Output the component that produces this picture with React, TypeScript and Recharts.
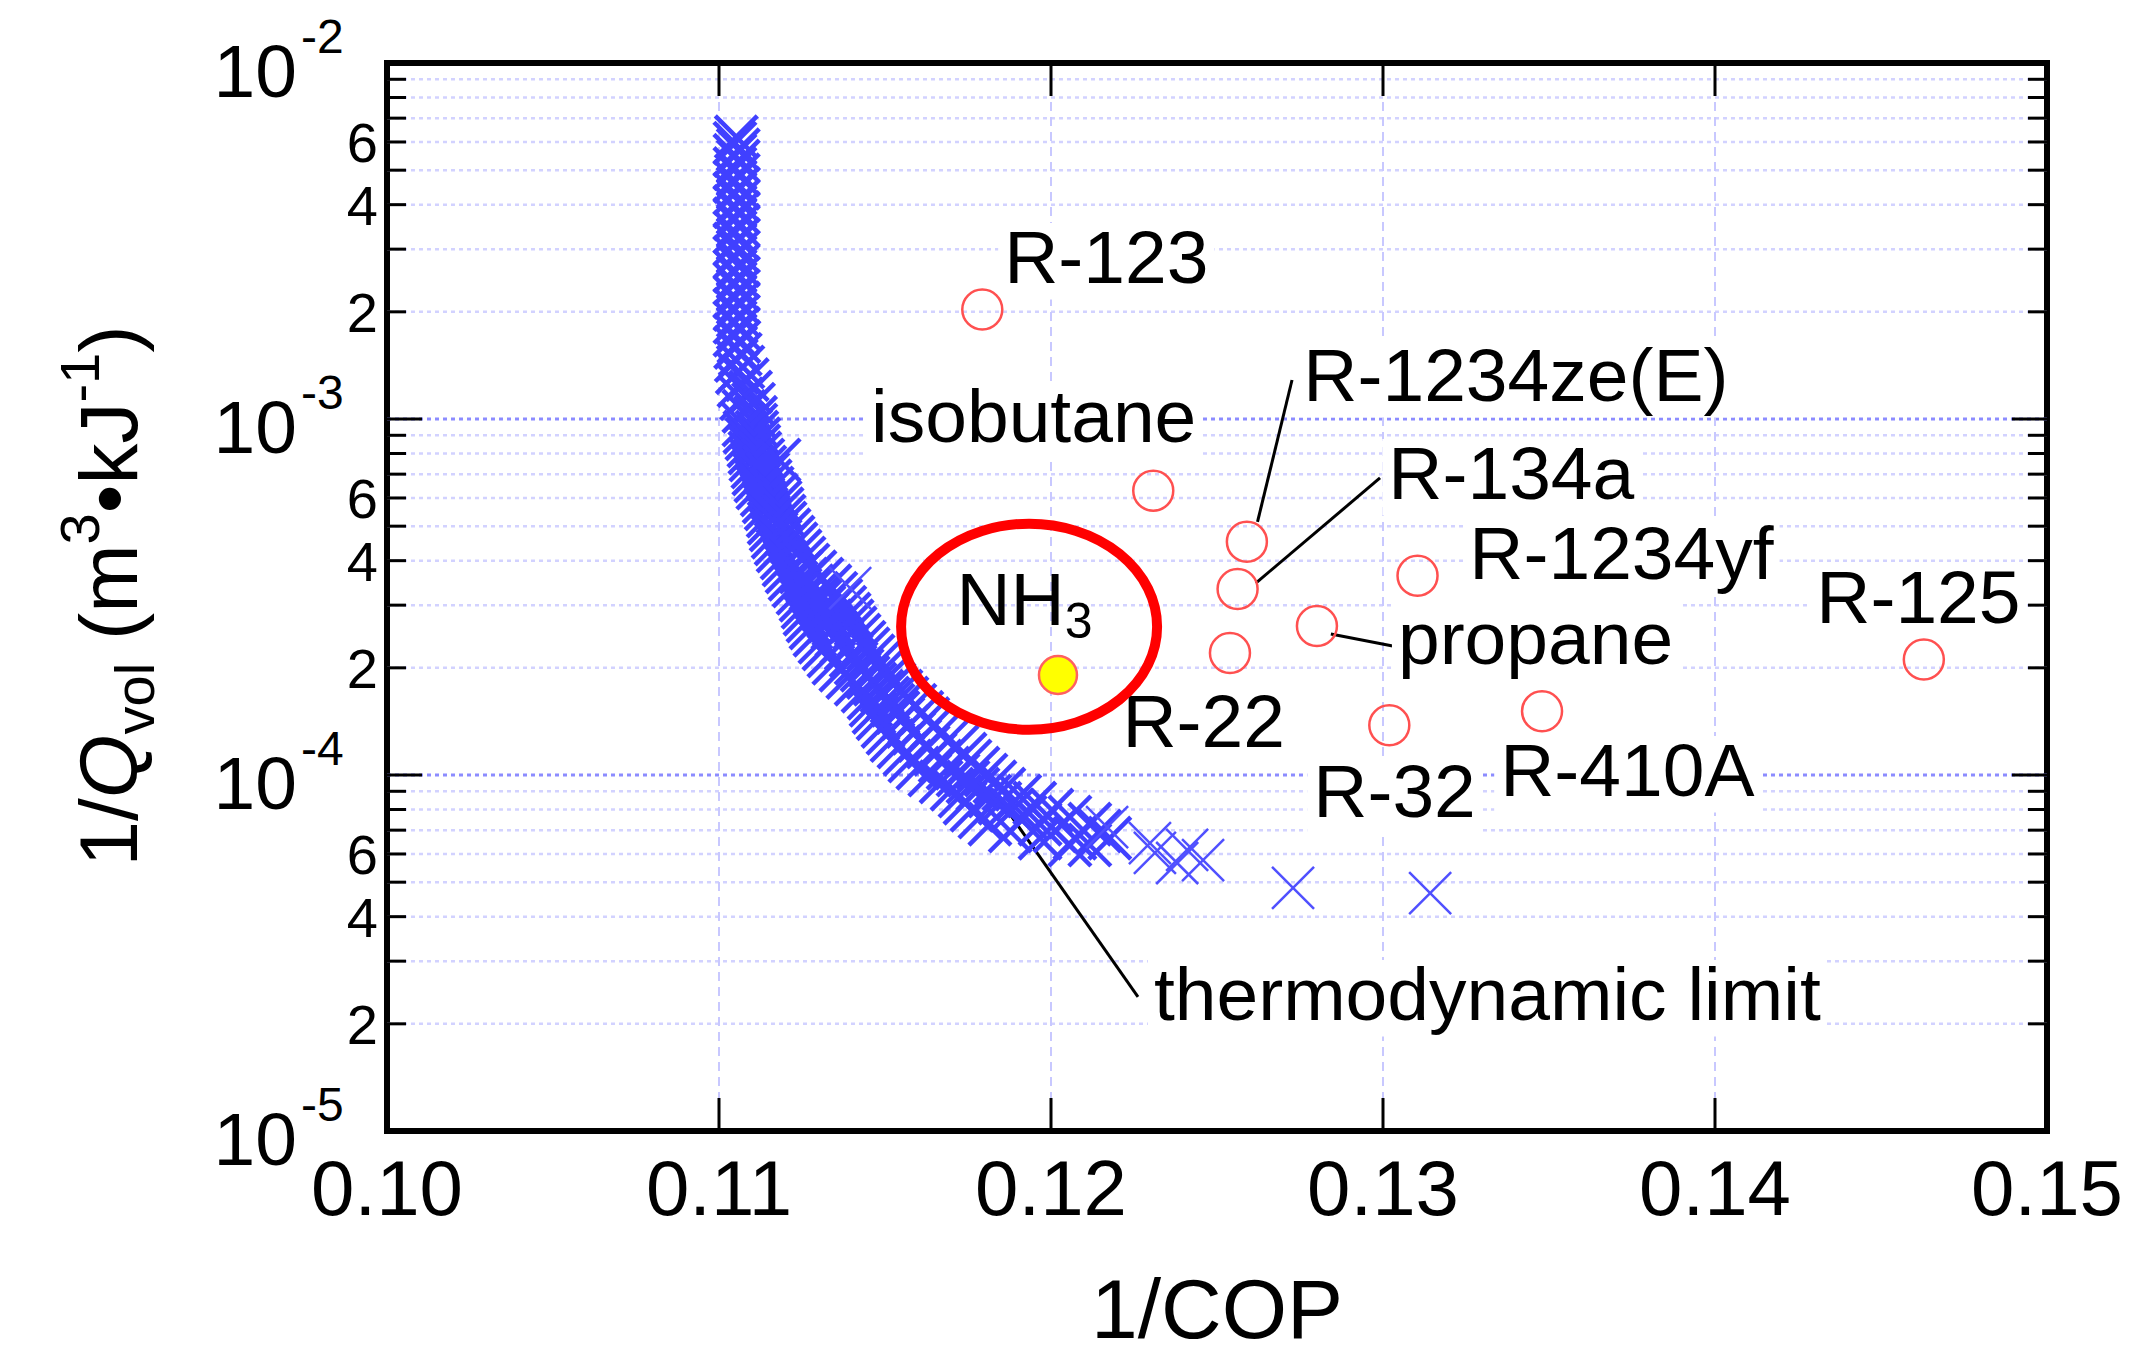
import React from "react"
import {
  ScatterChart,
  Scatter,
  XAxis,
  YAxis,
  ReferenceLine,
  ReferenceDot,
  ReferenceArea,
} from "recharts"

// ---- axes ----
const xTicks = [0.1, 0.11, 0.12, 0.13, 0.14, 0.15]
const xGrid = [0.11, 0.12, 0.13, 0.14]
const yTicks = [
  1e-5, 2e-5, 3e-5, 4e-5, 5e-5, 6e-5, 7e-5, 8e-5, 9e-5,
  1e-4, 2e-4, 3e-4, 4e-4, 5e-4, 6e-4, 7e-4, 8e-4, 9e-4,
  1e-3, 2e-3, 3e-3, 4e-3, 5e-3, 6e-3, 7e-3, 8e-3, 9e-3,
  1e-2,
]
const yMinorLabels = [2, 4, 6]

// ---- thermodynamic limit cloud: [1/COP, 1/Qvol] ----
const limitUpper: [number, number][] = [
  [0.11052, 6.2e-3], [0.11048, 5.95e-3], [0.11058, 5.7e-3], [0.11048, 5.5e-3],
  [0.11058, 5.3e-3], [0.11048, 5.05e-3], [0.11058, 4.85e-3], [0.11048, 4.65e-3],
  [0.11058, 4.45e-3], [0.11048, 4.3e-3], [0.11058, 4.1e-3], [0.11048, 3.95e-3],
  [0.11058, 3.8e-3], [0.11048, 3.65e-3], [0.11058, 3.5e-3], [0.11048, 3.35e-3],
  [0.11058, 3.2e-3], [0.11048, 3.1e-3], [0.11058, 2.95e-3], [0.11048, 2.85e-3],
  [0.11058, 2.7e-3], [0.11048, 2.6e-3], [0.11058, 2.5e-3], [0.11048, 2.4e-3],
  [0.11058, 2.3e-3], [0.11048, 2.2e-3], [0.11058, 2.12e-3], [0.11048, 2.03e-3],
  [0.11058, 1.95e-3], [0.11048, 1.87e-3], [0.11058, 1.8e-3], [0.11048, 1.72e-3],
  [0.1106, 1.65e-3], [0.1105, 1.59e-3], [0.11064, 1.52e-3], [0.11052, 1.46e-3],
  [0.11072, 1.4e-3], [0.11055, 1.35e-3], [0.11085, 1.29e-3], [0.1106, 1.24e-3],
  [0.11095, 1.19e-3], [0.11068, 1.14e-3], [0.11104, 1.1e-3], [0.11075, 1.05e-3],
  [0.1111, 1.01e-3],
]

const limitLower: [number, number][] = [
  [0.11075, 9.62e-4], [0.11111, 9.62e-4],
  [0.11078, 9.19e-4], [0.11114, 9.19e-4],
  [0.11084, 8.79e-4], [0.1112, 8.79e-4],
  [0.1109, 8.4e-4], [0.1112, 8.4e-4],
  [0.11093, 8.03e-4], [0.11123, 8.03e-4],
  [0.11096, 7.67e-4], [0.11132, 7.67e-4], [0.11181, 7.67e-4],
  [0.11102, 7.33e-4], [0.11138, 7.33e-4],
  [0.11105, 7.01e-4], [0.11147, 7.01e-4],
  [0.11111, 6.7e-4], [0.11154, 6.7e-4],
  [0.11117, 6.4e-4], [0.1116, 6.4e-4],
  [0.1113, 6.12e-4], [0.11172, 6.12e-4],
  [0.11136, 5.85e-4], [0.11184, 5.85e-4],
  [0.11142, 5.59e-4], [0.1119, 5.59e-4],
  [0.11148, 5.34e-4], [0.11196, 5.34e-4],
  [0.11151, 5.1e-4], [0.11199, 5.1e-4],
  [0.11157, 4.88e-4], [0.11211, 4.88e-4],
  [0.11163, 4.66e-4], [0.11223, 4.66e-4],
  [0.11172, 4.46e-4], [0.11232, 4.46e-4],
  [0.11178, 4.26e-4], [0.11244, 4.26e-4],
  [0.1119, 4.07e-4], [0.11256, 4.07e-4],
  [0.11196, 3.89e-4], [0.11268, 3.89e-4],
  [0.11205, 3.72e-4], [0.11247, 3.72e-4], [0.11289, 3.72e-4],
  [0.11214, 3.55e-4], [0.11262, 3.55e-4], [0.1131, 3.55e-4],
  [0.11226, 3.4e-4], [0.1128, 3.4e-4], [0.11334, 3.4e-4],
  [0.11238, 3.24e-4], [0.11295, 3.24e-4], [0.11352, 3.24e-4],
  [0.11247, 3.1e-4], [0.11307, 3.1e-4], [0.11367, 3.1e-4],
  [0.11253, 2.96e-4], [0.11316, 2.96e-4], [0.11379, 2.96e-4],
  [0.11259, 2.83e-4], [0.11325, 2.83e-4], [0.11392, 2.83e-4],
  [0.11268, 2.71e-4], [0.11334, 2.71e-4], [0.11401, 2.71e-4],
  [0.11277, 2.59e-4], [0.11343, 2.59e-4], [0.1141, 2.59e-4],
  [0.11289, 2.47e-4], [0.11355, 2.47e-4], [0.11422, 2.47e-4],
  [0.11304, 2.36e-4], [0.1137, 2.36e-4], [0.11437, 2.36e-4],
  [0.11316, 2.26e-4], [0.11383, 2.26e-4], [0.11449, 2.26e-4],
  [0.11331, 2.16e-4], [0.11398, 2.16e-4], [0.11464, 2.16e-4],
  [0.11346, 2.06e-4], [0.11413, 2.06e-4], [0.11479, 2.06e-4],
  [0.11367, 1.97e-4], [0.11431, 1.97e-4], [0.11494, 1.97e-4],
  [0.11388, 1.88e-4], [0.11449, 1.88e-4], [0.11509, 1.88e-4],
  [0.11413, 1.8e-4], [0.1147, 1.8e-4], [0.11527, 1.8e-4],
  [0.11434, 1.72e-4], [0.11491, 1.72e-4], [0.11548, 1.72e-4],
  [0.11452, 1.645e-4], [0.11509, 1.645e-4], [0.11566, 1.645e-4],
  [0.11458, 1.57e-4], [0.11524, 1.57e-4], [0.1159, 1.57e-4],
  [0.11467, 1.5e-4], [0.11539, 1.5e-4], [0.11611, 1.5e-4],
  [0.11479, 1.44e-4], [0.11554, 1.44e-4], [0.11629, 1.44e-4],
  [0.11494, 1.37e-4], [0.11569, 1.37e-4], [0.11644, 1.37e-4],
  [0.11509, 1.31e-4], [0.11587, 1.31e-4], [0.11665, 1.31e-4],
  [0.11521, 1.25e-4], [0.11605, 1.25e-4], [0.11689, 1.25e-4],
  [0.11542, 1.2e-4], [0.1163, 1.2e-4], [0.11717, 1.2e-4],
  [0.1156, 1.145e-4], [0.11651, 1.145e-4], [0.11741, 1.145e-4],
  [0.11575, 1.095e-4], [0.11666, 1.095e-4], [0.11756, 1.095e-4],
  [0.11599, 1.046e-4], [0.1169, 1.046e-4], [0.1178, 1.046e-4],
  [0.11635, 1.0e-4], [0.1172, 1.0e-4], [0.11804, 1.0e-4],
  [0.11669, 9.56e-5], [0.1175, 9.56e-5], [0.11831, 9.56e-5],
  [0.11702, 9.13e-5], [0.1178, 9.13e-5], [0.11858, 9.13e-5],
  [0.11726, 8.73e-5], [0.11816, 8.73e-5], [0.11906, 8.73e-5],
  [0.11741, 8.34e-5], [0.11846, 8.34e-5], [0.11951, 8.34e-5],
  [0.11762, 7.97e-5], [0.11883, 7.97e-5], [0.12003, 7.97e-5],
  [0.11786, 7.62e-5], [0.11922, 7.62e-5], [0.12057, 7.62e-5],
  [0.11816, 7.28e-5], [0.11967, 7.28e-5], [0.12117, 7.28e-5],
  [0.11877, 6.96e-5], [0.12012, 6.96e-5], [0.12147, 6.96e-5],
  [0.11967, 6.65e-5], [0.12072, 6.65e-5], [0.12177, 6.65e-5],
  [0.12057, 6.36e-5], [0.12117, 6.36e-5],
]

const limitStray: [number, number][] = [
  [0.11395, 3.35e-4], [0.12169, 7.14e-5], [0.12298, 6.44e-5], [0.12313, 6.04e-5],
  [0.1238, 5.66e-5], [0.1241, 6.16e-5], [0.12458, 5.77e-5], [0.12729, 4.82e-5],
  [0.13142, 4.66e-5],
]

// ---- refrigerants ----
const refrigerants = ["R-123", "isobutane", "R-1234ze(E)", "R-134a", "R-1234yf", "propane", "R-22", "R-32", "R-410A", "R-125"]
const refCop = [0.11793, 0.12308, 0.1259, 0.12562, 0.13104, 0.12801, 0.12539, 0.13019, 0.13479, 0.14629]
const refQvol = [2.03e-3, 6.29e-4, 4.52e-4, 3.33e-4, 3.63e-4, 2.62e-4, 2.2e-4, 1.38e-4, 1.51e-4, 2.11e-4]
const nh3Cop = 0.12021
const nh3Qvol = 1.91e-4

// label anchors (baseline-left) in data units
const labelTexts = ["R-123", "isobutane", "R-1234ze(E)", "R-134a", "R-1234yf", "propane", "R-125", "R-22", "R-32", "R-410A", "thermodynamic limit"]
const labelCop = [0.11859, 0.11458, 0.1276, 0.13016, 0.1326, 0.13045, 0.14305, 0.12215, 0.1279, 0.13353, 0.1231]
const labelQvol = [2.41e-3, 8.62e-4, 1.124e-3, 5.96e-4, 3.554e-4, 2.05e-4, 2.673e-4, 1.199e-4, 7.62e-5, 8.73e-5, 2.05e-5]
const nh3LabelCop = 0.11715
const nh3LabelQvol = 2.637e-4

// leader lines [cop1, q1, cop2, q2]
const leaders: [number, number, number, number][] = [
  [0.12726, 1.287e-3, 0.12622, 5.14e-4],
  [0.12991, 6.83e-4, 0.12617, 3.46e-4],
  [0.12843, 2.49e-4, 0.13033, 2.3e-4],
  [0.11825, 9.08e-5, 0.12262, 2.38e-5],
]
const highlightCop = 0.11934
const highlightQvol = 2.61e-4

const W = 2130
const H = 1365
const PLOT = { left: 387, right: 2047, top: 63, bottom: 1131 }
const FONT = "'Liberation Sans', Arial, Helvetica, sans-serif"
const LABEL_SIZE = 75

const charW: Record<string, number> = {
  R: 0.722, "-": 0.333, E: 0.667, "(": 0.333, ")": 0.333, z: 0.5, y: 0.5, f: 0.278,
  r: 0.333, i: 0.222, s: 0.5, t: 0.278, c: 0.5, l: 0.222, " ": 0.278, m: 0.833, A: 0.667,
}
const textWidth = (s: string) => s.split("").reduce((w, ch) => w + (charW[ch] ?? 0.556), 0)

const toPoints = (arr: [number, number][]) => arr.map(([x, y]) => ({ x, y }))
const bandData = toPoints([...limitUpper, ...limitLower])
const strayData = toPoints(limitStray)
const refData = refrigerants.map((name, i) => ({ name, x: refCop[i], y: refQvol[i] }))

function crossPath(cx: number, cy: number, h: number) {
  return `M${cx - h},${cy - h}L${cx + h},${cy + h}M${cx - h},${cy + h}L${cx + h},${cy - h}`
}

function BandCross(props: any) {
  return <path d={crossPath(props.cx, props.cy, 21)} stroke="#4040ff" strokeWidth={4.5} fill="none" />
}

function StrayCross(props: any) {
  return <path d={crossPath(props.cx, props.cy, 21)} stroke="#5050ff" strokeWidth={2.5} fill="none" />
}

function RedRing(props: any) {
  return <circle cx={props.cx} cy={props.cy} r={20} fill="none" stroke="#ff5050" strokeWidth={2.5} />
}

function YellowDot(props: any) {
  return <circle cx={props.cx} cy={props.cy} r={19} fill="#ffff00" stroke="#ff6060" strokeWidth={2.5} />
}

function YTick(props: any) {
  const { y, payload } = props
  const v = payload.value
  const exp = Math.floor(Math.log10(v) + 1e-9)
  const mant = Math.round(v / Math.pow(10, exp))
  const major = mant === 1
  const len = major ? 35 : 19
  return (
    <g>
      <line x1={PLOT.left} x2={PLOT.left + len} y1={y} y2={y} stroke="#000" strokeWidth={3} />
      <line x1={PLOT.right} x2={PLOT.right - len} y1={y} y2={y} stroke="#000" strokeWidth={3} />
      {major && (
        <>
          <text x={297} y={y + 34} textAnchor="end" fontSize={75} fill="#000" fontFamily={FONT}>10</text>
          <text x={301} y={y - 10} fontSize={48} fill="#000" fontFamily={FONT}>{`-${-exp}`}</text>
        </>
      )}
      {!major && yMinorLabels.includes(mant) && (
        <text x={378} y={y + 20} textAnchor="end" fontSize={56} fill="#000" fontFamily={FONT}>{mant}</text>
      )}
    </g>
  )
}

function XTick(props: any) {
  const { x, payload } = props
  const v = payload.value
  const inner = v > 0.101 && v < 0.149
  return (
    <g>
      {inner && <line x1={x} x2={x} y1={PLOT.bottom} y2={PLOT.bottom - 33} stroke="#000" strokeWidth={3} />}
      {inner && <line x1={x} x2={x} y1={PLOT.top} y2={PLOT.top + 33} stroke="#000" strokeWidth={3} />}
      <text x={x} y={1215} textAnchor="middle" fontSize={78} fill="#000" fontFamily={FONT}>
        {v.toFixed(2)}
      </text>
    </g>
  )
}

function Tag({ cx, cy, text }: { cx: number; cy: number; text: string }) {
  const w = textWidth(text) * LABEL_SIZE
  return (
    <g>
      <rect x={cx - 6} y={cy - LABEL_SIZE * 0.8} width={w + 12} height={LABEL_SIZE * 1.02} fill="#fff" />
      <text x={cx} y={cy} fontSize={LABEL_SIZE} fill="#000" fontFamily={FONT}>{text}</text>
    </g>
  )
}

function YLabel() {
  return (
    <text transform="translate(137,596) rotate(-90)" textAnchor="middle" fontSize={82} fill="#000" fontFamily={FONT}>
      1/<tspan fontStyle="italic">Q</tspan>
      <tspan fontSize={56} dy={17}>vol</tspan>
      <tspan dy={-17}> (m</tspan>
      <tspan fontSize={56} dy={-38}>3</tspan>
      <tspan dy={38}>•kJ</tspan>
      <tspan fontSize={56} dy={-38}>-1</tspan>
      <tspan dy={38}>)</tspan>
    </text>
  )
}

function XLabel() {
  return (
    <text x={1217} y={1338} textAnchor="middle" fontSize={84} fill="#000" fontFamily={FONT}>1/COP</text>
  )
}

export default function App() {
  return (
    <div style={{ position: "absolute", left: 0, top: 0, width: W, height: H, background: "#fff", fontFamily: FONT }}>
      <ScatterChart width={W} height={H} margin={{ top: PLOT.top, right: W - PLOT.right, bottom: 0, left: 0 }}>
        <XAxis
          dataKey="x"
          type="number"
          domain={[0.1, 0.15]}
          ticks={xTicks}
          interval={0}
          tick={(p: any) => <XTick {...p} />}
          axisLine={false}
          tickLine={false}
          height={H - PLOT.bottom}
          label={{ content: () => <XLabel /> }}
          allowDataOverflow
        />
        <YAxis
          dataKey="y"
          type="number"
          scale="log"
          domain={[1e-5, 1e-2]}
          ticks={yTicks}
          interval={0}
          tick={(p: any) => <YTick {...p} />}
          axisLine={false}
          tickLine={false}
          width={PLOT.left}
          label={{ content: () => <YLabel /> }}
          allowDataOverflow
        />

        {yTicks.slice(1, -1).map((v) => {
          const major = Math.abs(Math.log10(v) - Math.round(Math.log10(v))) < 1e-6
          return (
            <ReferenceLine
              key={`gy${v}`}
              y={v}
              stroke={major ? "#8c8cff" : "#d2d2ff"}
              strokeWidth={major ? 3 : 2.5}
              strokeDasharray="4 4"
            />
          )
        })}
        {xGrid.map((v) => (
          <ReferenceLine key={`gx${v}`} x={v} stroke="#c8c8ff" strokeWidth={2} strokeDasharray="9 6" />
        ))}

        <Scatter data={bandData} shape={BandCross} isAnimationActive={false} />
        <Scatter data={strayData} shape={StrayCross} isAnimationActive={false} />

        {labelTexts.map((t, i) => (
          <ReferenceDot
            key={t}
            x={labelCop[i]}
            y={labelQvol[i]}
            shape={(p: any) => <Tag cx={p.cx} cy={p.cy} text={t} />}
          />
        ))}
        <ReferenceDot
          x={nh3LabelCop}
          y={nh3LabelQvol}
          shape={(p: any) => (
            <text x={p.cx} y={p.cy} fontSize={LABEL_SIZE} fill="#000" fontFamily={FONT}>
              NH<tspan fontSize={50} dy={13}>3</tspan>
            </text>
          )}
        />

        {leaders.map(([x1, y1, x2, y2], i) => (
          <ReferenceLine
            key={`ld${i}`}
            segment={[{ x: x1, y: y1 }, { x: x2, y: y2 }]}
            stroke="#000"
            strokeWidth={3}
          />
        ))}

        <Scatter data={refData} shape={RedRing} isAnimationActive={false} />
        <Scatter data={[{ x: nh3Cop, y: nh3Qvol }]} shape={YellowDot} isAnimationActive={false} />

        <ReferenceDot
          x={highlightCop}
          y={highlightQvol}
          shape={(p: any) => (
            <ellipse cx={p.cx} cy={p.cy} rx={128} ry={103} fill="none" stroke="#ff0000" strokeWidth={10} />
          )}
        />

        <ReferenceArea x1={0.1} x2={0.15} y1={1e-5} y2={1e-2} fill="none" stroke="#000" strokeWidth={6} fillOpacity={0} />
      </ScatterChart>
    </div>
  )
}
